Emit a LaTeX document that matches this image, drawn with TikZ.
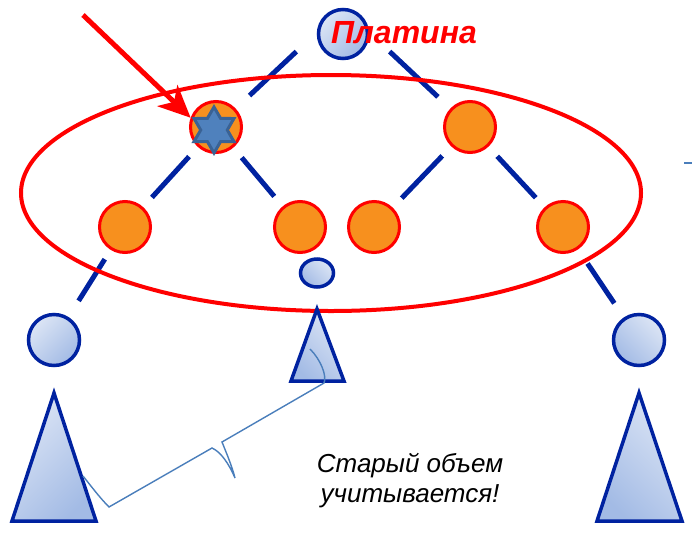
\documentclass[tikz,border=0pt]{standalone}
\usepackage{fontspec}
\setmainfont{Liberation Sans}
\usepackage{tikz}
\usetikzlibrary{arrows.meta,shapes.geometric,positioning}
\definecolor{dkblue}{HTML}{0022A0}
\definecolor{lightblu}{HTML}{DCE5F5}
\definecolor{midblu}{HTML}{A3BBE5}
\definecolor{nodeorange}{HTML}{F7901E}
\definecolor{starblu}{HTML}{4F81BD}
\definecolor{stardk}{HTML}{3A6294}
\definecolor{bracblu}{HTML}{4A7EBB}

\begin{document}
\begin{tikzpicture}[x=1pt, y=-1pt,
 gold/.style={circle, draw=red, fill=nodeorange, line width=3pt, minimum size=51pt, inner sep=0pt},
 blu/.style={draw=dkblue, line width=3.5pt, top color=lightblu, bottom color=midblu, shading angle=45, inner sep=0pt},
 blv/.style={blu, shading angle=-45},
 edg/.style={draw=dkblue, line width=5pt},
 brc/.style={draw=bracblu, line width=1.4pt},
 arr/.style={draw=red, line width=5pt, -{Stealth[length=32pt, width=29pt, inset=9pt]}}]
\useasboundingbox (0,0) rectangle (692,533);
% the tree
\node[blu, circle, minimum size=49pt] (r) at (343,34) {};
\node[gold] (a) at (216,127) {};
\node[gold] (b) at (470,127) {};
\node[gold] (aa) at (125,227) {};
\node[gold] (ab) at (300,227) {};
\node[gold] (ba) at (374,227) {};
\node[gold] (bb) at (563,227) {};
\node[blu, circle, minimum size=51pt] (la) at (54,340) {};
\node[blv, circle, minimum size=51pt] (ra) at (639,340) {};
\node[blv, ellipse, minimum width=33pt, minimum height=28pt] (m) at (317,273) {};
\node[star, star points=6, star point ratio=1.73, fill=starblu, draw=stardk, line width=3pt, minimum size=46pt, inner sep=0pt] (s) at (214,130) {};
\draw[edg, shorten <=64pt, shorten >=19pt] (r.north) -- (a);
\draw[edg, shorten <=64pt, shorten >=17pt] (r.north) -- (b);
\foreach \p/\c in {a/aa, a/ab, b/ba, b/bb}{\draw[edg, shorten <=13pt, shorten >=13pt] (\p) -- (\c);}
\draw[edg, shorten <=11pt, shorten >=19pt] (aa) -- (la);
\draw[edg, shorten <=17pt, shorten >=17pt] (bb) -- (ra);
% the ring
\draw[red, line width=4pt] (331,193) ellipse [x radius=310, y radius=118];
% subtrees
\draw[blu] (54,393) -- (96,521) -- (12,521) -- cycle;
\draw[blv] (317,309) -- (344,381) -- (291,381) -- cycle;
\draw[blv] (639,393) -- (682,521) -- (597,521) -- cycle;
\draw[brc] (310,349) .. controls (321,360) and (327,376) .. (324,383) -- (222,442) .. controls (226,452) and (232,466) .. (235,478) .. controls (229,464) and (221,452) .. (212,448) -- (109,507) .. controls (100,498) and (91,486) .. (83,476);
\draw[brc] (684,163) -- (692,163);
\coordinate (tl) at (83,15);
\draw[arr] (tl) -- (a.160);
\node[font=\fontsize{32}{38}\selectfont\bfseries\itshape, text=red] (ttl) at (404,33) {Платина};
\node[font=\fontsize{26}{30}\selectfont\itshape, align=center] (note) at (410,481) {Старый объем\\ учитывается!};
\end{tikzpicture}
\end{document}
